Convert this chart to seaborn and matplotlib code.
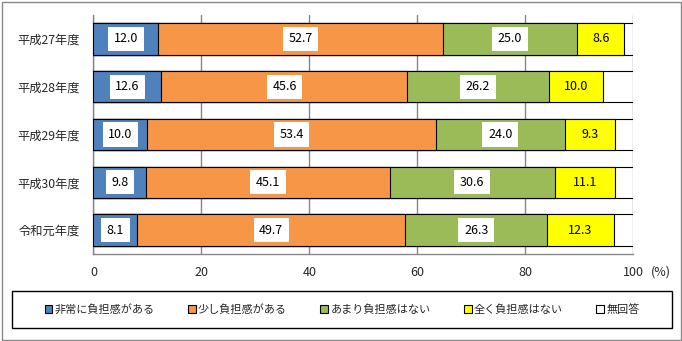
import numpy as np
import pandas as pd
import matplotlib
matplotlib.use("Agg")
import matplotlib.pyplot as plt
from matplotlib.patches import Patch, Rectangle
import seaborn as sns

# Survey years (top to bottom)
years = ["平成27年度", "平成28年度", "平成29年度", "平成30年度", "令和元年度"]

# Response shares (%) per answer
very_burdened = [12.0, 12.6, 10.0, 9.8, 8.1]
some_burden = [52.7, 45.6, 53.4, 45.1, 49.7]
little_burden = [25.0, 26.2, 24.0, 30.6, 26.3]
no_burden = [8.6, 10.0, 9.3, 11.1, 12.3]
no_answer = [1.7, 5.6, 3.3, 3.4, 3.6]

series_names = ["非常に負担感がある", "少し負担感がある", "あまり負担感はない", "全く負担感はない", "無回答"]
series_values = [very_burdened, some_burden, little_burden, no_burden, no_answer]
series_colors = ["#4F81BD", "#F79646", "#9BBB59", "#FFFF00", "#FFFFFF"]
label_boxed = [True, True, True, False, None]

sns.set_style("white")
plt.rcParams["font.family"] = ["Noto Sans CJK JP", "DejaVu Sans"]

fig = plt.figure(figsize=(6.82, 3.41), dpi=100)
ax = fig.add_axes([93.5 / 682, 1 - 254 / 341, (633 - 93.5) / 682, (254 - 15) / 341])

vals = np.array(series_values)          # shape (series, years)
cum = np.cumsum(vals, axis=0)
starts = cum - vals

# Stacked bars: draw cumulative totals from the outermost segment inward
for i in range(len(series_names) - 1, -1, -1):
    df = pd.DataFrame({"year": years, "cum": cum[i]})
    sns.barplot(data=df, x="cum", y="year", orient="h", order=years,
                color=series_colors[i], saturation=1, width=0.66,
                edgecolor="black", linewidth=0.8, ax=ax, zorder=3)

# Value labels centred in each segment
for i in range(4):
    for j in range(len(years)):
        v = vals[i, j]
        x = starts[i, j] + v / 2
        kw = {}
        if label_boxed[i]:
            kw["bbox"] = dict(boxstyle="square,pad=0.45", fc="white", ec="none")
        ax.text(x, j, f"{v:.1f}", ha="center", va="center", fontsize=9,
                color="black", zorder=5, **kw)

ax.set_xlim(0, 100)
ax.set_ylim(len(years) - 0.5, -0.5)
ax.set_xticks([0, 20, 40, 60, 80, 100])
ax.set_xticklabels(["0", "20", "40", "60", "80", "100"])
ax.set_xlabel("")
ax.set_ylabel("")

grid_c = "#868686"
ax.grid(axis="x", color=grid_c, linewidth=1, zorder=0)
ax.grid(axis="y", visible=False)
ax.set_axisbelow(True)
for s in ["top", "right"]:
    ax.spines[s].set_visible(False)
for s in ["left", "bottom"]:
    ax.spines[s].set_color(grid_c)
    ax.spines[s].set_linewidth(1)

ax.set_yticks(np.arange(len(years)))
ax.set_yticks(np.arange(len(years) + 1) - 0.5, minor=True)
ax.tick_params(axis="y", which="major", length=0, pad=10, labelsize=8.8)
ax.tick_params(axis="y", which="minor", length=5, color=grid_c, width=1, direction="out")
ax.tick_params(axis="x", which="major", length=4, color=grid_c, width=1,
               direction="out", labelsize=9, pad=5)

fig.text(661 / 682, 1 - 272 / 341, "(%)", ha="center", va="center", fontsize=9)

# Legend with rectangular frame
handles = [Patch(facecolor=c, edgecolor="black", linewidth=0.8) for c in series_colors]
fig.legend(handles, series_names, loc="center", ncol=5, frameon=False,
           bbox_to_anchor=((12 + 672) / 2 / 682, 1 - 309.5 / 341),
           bbox_transform=fig.transFigure, fontsize=8,
           handlelength=0.7, handleheight=0.7, handletextpad=0.2,
           columnspacing=3.0)
fig.add_artist(Rectangle((12 / 682, 1 - 328 / 341), 660 / 682, 37 / 341,
                         transform=fig.transFigure, fill=False,
                         edgecolor="black", linewidth=1))

# Outer chart border
fig.add_artist(Rectangle((1.5 / 682, 1.5 / 341), 679 / 682, 338 / 341,
                         transform=fig.transFigure, fill=False,
                         edgecolor="#898989", linewidth=1))

fig.savefig("out.png", dpi=100)
